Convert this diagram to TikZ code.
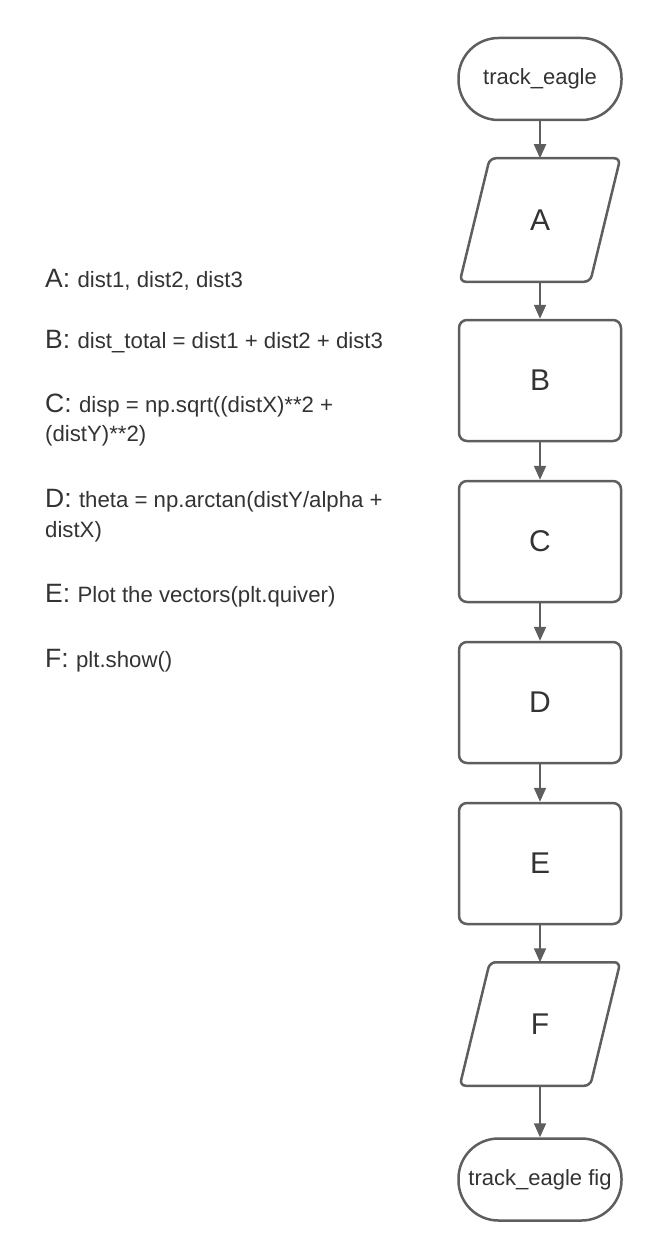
\documentclass[tikz,border=0pt]{standalone}
\usepackage{fontspec}
\setmainfont{Liberation Sans}
\usetikzlibrary{arrows.meta}
\definecolor{edgegrey}{HTML}{5E5E5E}
\definecolor{ink}{HTML}{333333}
\newcommand\keyletter[1]{{\fontsize{26.5}{30}\selectfont #1}}
\begin{document}
\begin{tikzpicture}[x=1pt,y=-1pt,
  term/.style={rectangle, rounded corners=40pt, draw=edgegrey, line width=2.5pt, fill=white,
    minimum width=163pt, minimum height=82pt, inner sep=0pt, text=ink,
    font=\fontsize{22}{24}\selectfont},
  procbox/.style={rectangle, rounded corners=8pt, draw=edgegrey, line width=2.5pt,
    minimum width=162pt, minimum height=121pt, inner sep=0pt, text=ink,
    font=\fontsize{30}{34}\selectfont},
  iobox/.style={rectangle, draw=none, line width=2.5pt, minimum width=158pt,
    minimum height=121pt, inner sep=0pt, text=ink, font=\fontsize{30}{34}\selectfont},
  iopath/.style={draw=edgegrey, line width=2.5pt, rounded corners=6pt},
  flow/.style={draw=edgegrey, line width=2pt, -{Triangle[width=12pt,length=14pt]}},
  note/.style={anchor=base west, inner sep=0pt, text=ink, font=\fontsize{22.2}{24}\selectfont}
]
\useasboundingbox (0,0) rectangle (660,1260);

% flow nodes
\node[term] (start) at (540,79) {track\_eagle};
\node[iobox] (A) at (540,220) {A};
\node[procbox] (B) at (540,380.5) {B};
\node[procbox] (C) at (540,541.5) {C};
\node[procbox] (D) at (540,702.5) {D};
\node[procbox] (E) at (540,863.5) {E};
\node[iobox] (F) at (540,1024) {F};
\node[term] (end) at (540,1179.5) {track\_eagle fig};

% parallelograms
\draw[iopath] ([xshift=30pt]A.north west) -- (A.north east) -- ([xshift=-30pt]A.south east) -- (A.south west) -- cycle;
\draw[iopath] ([xshift=30pt]F.north west) -- (F.north east) -- ([xshift=-30pt]F.south east) -- (F.south west) -- cycle;

% connectors
\draw[flow] (start) -- (A);
\draw[flow] (A) -- (B);
\draw[flow] (B) -- (C);
\draw[flow] (C) -- (D);
\draw[flow] (D) -- (E);
\draw[flow] (E) -- (F);
\draw[flow] (F) -- (end);

% legend text
\node[note] (tA) at (45,287) {\keyletter{A: }dist1, dist2, dist3};
\node[note] (tB) at (45,348) {\keyletter{B: }dist\_total = dist1 + dist2 + dist3};
\node[note] (tC) at (45,412) {\keyletter{C: }disp = np.sqrt((distX)**2 +};
\node[note] (tC2) at (45,441) {(distY)**2)};
\node[note] (tD) at (45,507) {\keyletter{D: }theta = np.arctan(distY/alpha +};
\node[note] (tD2) at (45,537) {distX)};
\node[note] (tE) at (45,602) {\keyletter{E: }Plot the vectors(plt.quiver)};
\node[note] (tF) at (45,667) {\keyletter{F: }plt.show()};
\end{tikzpicture}
\end{document}
